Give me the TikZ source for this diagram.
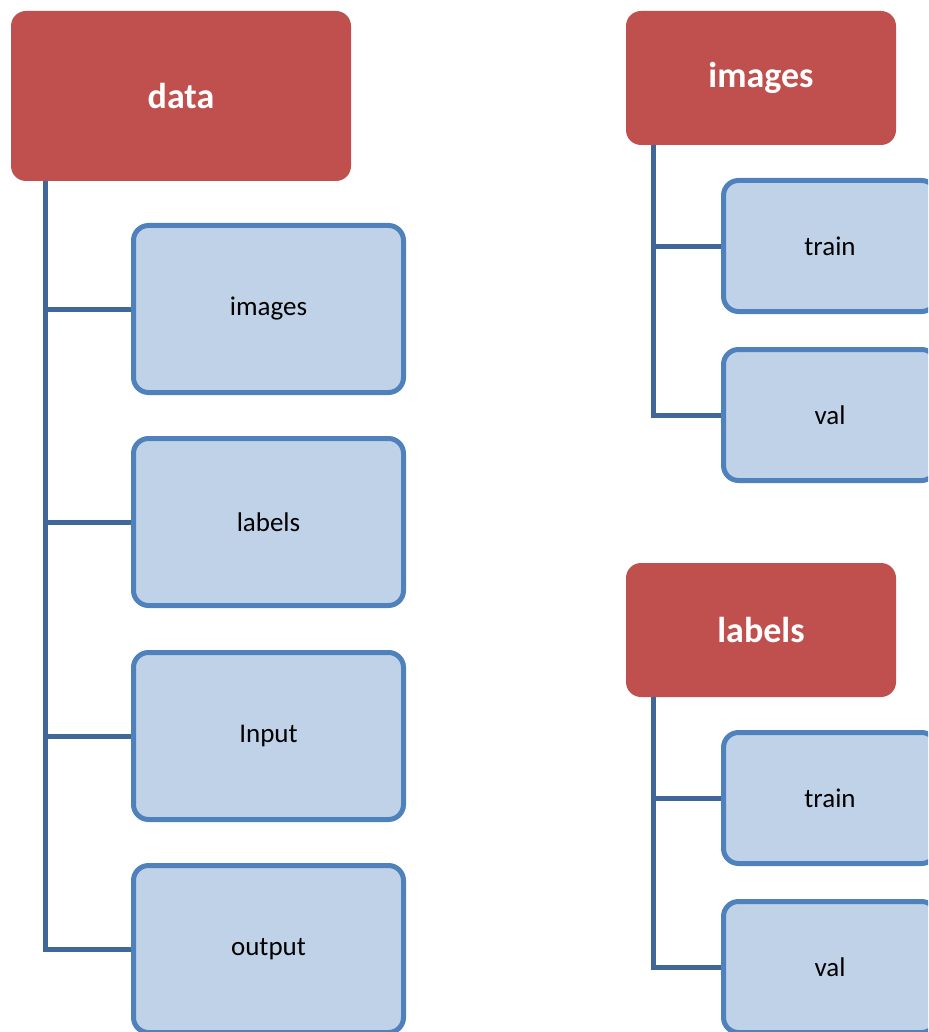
\documentclass[tikz,border=0pt]{standalone}
\usepackage{fontspec}
\setmainfont{Carlito}
\usepackage{tikz}
\usetikzlibrary{positioning}
\definecolor{headred}{HTML}{C0504D}
\definecolor{leafblue}{HTML}{C0D2E8}
\definecolor{leafline}{HTML}{4F81BD}
\definecolor{linkblue}{HTML}{41679A}
\tikzset{
  head/.style={fill=headred,text=white,font=\fontsize{18}{20}\selectfont\bfseries,rounded corners=7.5pt,inner sep=0pt},
  leaf/.style={fill=leafblue,draw=leafline,line width=2.5pt,font=\fontsize{13.5}{16}\selectfont,rounded corners=7.5pt,inner sep=0pt},
  link/.style={draw=linkblue,line width=2.5pt}
}
\begin{document}
\begin{tikzpicture}[x=0.5pt,y=-0.5pt]
\useasboundingbox (0,0) rectangle (928,1032);
\clip (0,0) rectangle (928,1032);
% left tree
\node[head,minimum width=170pt,minimum height=85pt] (data) at (181,96) {data};
\node[leaf,minimum width=135pt,minimum height=83.5pt] (dimg) at (268.5,309) {images};
\node[leaf,minimum width=135pt,minimum height=83.5pt] (dlab) at (268.5,522) {labels};
\node[leaf,minimum width=135pt,minimum height=83.5pt] (dinp) at (268.5,736) {Input};
\node[leaf,minimum width=135pt,minimum height=83.5pt] (dout) at (268.5,949) {output};
\coordinate (dtop) at (45,181);
\path[link] (dtop) |- (dout.west);
\path[link] (dtop |- dimg.west) -- (dimg.west);
\path[link] (dtop |- dlab.west) -- (dlab.west);
\path[link] (dtop |- dinp.west) -- (dinp.west);
% right trees
\node[head,minimum width=135pt,minimum height=67pt] (img) at (761,78) {images};
\node[leaf,minimum width=106.5pt,minimum height=65.5pt] (itrain) at (830,246) {train};
\node[leaf,minimum width=106.5pt,minimum height=65.5pt] (ival) at (830,415) {val};
\coordinate (itop) at (653,145);
\path[link] (itop) |- (ival.west);
\path[link] (itop |- itrain.west) -- (itrain.west);
\node[head,minimum width=135pt,minimum height=67pt] (lab) at (761,630) {labels};
\node[leaf,minimum width=106.5pt,minimum height=65.5pt] (ltrain) at (830,798) {train};
\node[leaf,minimum width=106.5pt,minimum height=65.5pt] (lval) at (830,967) {val};
\coordinate (ltop) at (653,697);
\path[link] (ltop) |- (lval.west);
\path[link] (ltop |- ltrain.west) -- (ltrain.west);
\end{tikzpicture}
\end{document}
